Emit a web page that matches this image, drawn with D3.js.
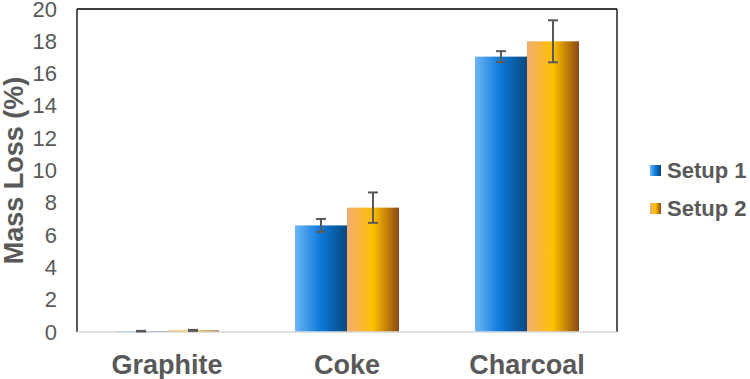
<!DOCTYPE html>
<html>
<head>
<meta charset="utf-8">
<script src="https://cdn.jsdelivr.net/npm/d3@7"></script>
<style>
body { margin: 0; background: #fff; }
svg { font-family: Arial, "Liberation Sans", sans-serif; }
</style>
</head>
<body>
<script>
var categories = ["Graphite", "Coke", "Charcoal"];
var seriesNames = ["Setup 1", "Setup 2"];
var setup1 = [0.05, 6.6, 17.05];
var setup2 = [0.1, 7.7, 18.0];
var err1 = [0.02, 0.4, 0.34];
var err2 = [0.03, 0.94, 1.3];
var yTicks = [0, 2, 4, 6, 8, 10, 12, 14, 16, 18, 20];

var width = 750, height = 379;
// note: "top" is reserved on window, so use plot* names
var plotLeft = 77, plotRight = 617, plotTop = 9, plotBottom = 332;

var svg = d3.select("body").append("svg")
	.attr("width", width)
	.attr("height", height);

var defs = svg.append("defs");
var blue = defs.append("linearGradient").attr("id", "gBlue");
blue.append("stop").attr("offset", "0%").attr("stop-color", "#6bb6f6");
blue.append("stop").attr("offset", "50%").attr("stop-color", "#0b78da");
blue.append("stop").attr("offset", "100%").attr("stop-color", "#0a477c");
var orange = defs.append("linearGradient").attr("id", "gOrange");
orange.append("stop").attr("offset", "0%").attr("stop-color", "#f3ad74");
orange.append("stop").attr("offset", "50%").attr("stop-color", "#ffc000");
orange.append("stop").attr("offset", "100%").attr("stop-color", "#8a4812");
var fills = ["url(#gBlue)", "url(#gOrange)"];

var x = d3.scaleBand().domain(categories).range([plotLeft, plotRight]);
var inner = d3.scaleBand().domain(seriesNames).range([0, 104]);
var y = d3.scaleLinear().domain([0, 20]).range([plotBottom, plotTop]);

// plot frame
svg.append("line").attr("x1", plotLeft).attr("x2", plotLeft).attr("y1", plotTop).attr("y2", plotBottom)
	.style("stroke", "#000").style("stroke-width", 1.3);
svg.append("line").attr("x1", plotLeft).attr("x2", plotRight).attr("y1", plotTop).attr("y2", plotTop)
	.style("stroke", "#000").style("stroke-width", 1.3);
svg.append("line").attr("x1", plotRight).attr("x2", plotRight).attr("y1", plotTop).attr("y2", plotBottom)
	.style("stroke", "#000").style("stroke-width", 1.3);

// y tick labels
var yAxis = svg.append("g").attr("transform", "translate(" + plotLeft + ",0)")
	.call(d3.axisLeft(y).tickValues(yTicks).tickSize(0).tickPadding(20));
yAxis.select(".domain").remove();
yAxis.selectAll("text").style("font-size", "22px").style("fill", "#595959")
	.style("font-family", "Arial, 'Liberation Sans', sans-serif");

// bars
var rows = [];
for (var i = 0; i < categories.length; i++) {
	rows.push({cat: categories[i], s: 0, v: setup1[i], e: err1[i]});
	rows.push({cat: categories[i], s: 1, v: setup2[i], e: err2[i]});
}
var offset = (x.bandwidth() - 104) / 2;
svg.selectAll("rect.bar").data(rows).enter().append("rect")
	.attr("class", "bar")
	.attr("x", function(d) { return x(d.cat) + offset + inner(seriesNames[d.s]); })
	.attr("width", inner.bandwidth())
	.attr("y", function(d) { return y(d.v); })
	.attr("height", function(d) { return y(0) - y(d.v); })
	.style("fill", function(d) { return fills[d.s]; });

// x baseline
svg.append("line").attr("x1", plotLeft).attr("x2", plotRight).attr("y1", plotBottom).attr("y2", plotBottom)
	.style("stroke", "#d9d9d9").style("stroke-width", 1.5);

// error bars
var eb = svg.selectAll("g.err").data(rows).enter().append("g").attr("class", "err")
	.style("stroke", "#595959").style("stroke-width", 2);
function cx(d) { return x(d.cat) + offset + inner(seriesNames[d.s]) + inner.bandwidth() / 2; }
eb.append("line")
	.attr("x1", cx).attr("x2", cx)
	.attr("y1", function(d) { return y(d.v + d.e); })
	.attr("y2", function(d) { return y(d.v - d.e); });
eb.append("line")
	.attr("x1", function(d) { return cx(d) - 5; }).attr("x2", function(d) { return cx(d) + 5; })
	.attr("y1", function(d) { return y(d.v + d.e); })
	.attr("y2", function(d) { return y(d.v + d.e); });
eb.append("line")
	.attr("x1", function(d) { return cx(d) - 5; }).attr("x2", function(d) { return cx(d) + 5; })
	.attr("y1", function(d) { return y(d.v - d.e); })
	.attr("y2", function(d) { return y(d.v - d.e); });

// x labels
svg.selectAll("text.cat").data(categories).enter().append("text")
	.attr("class", "cat")
	.attr("x", function(d) { return x(d) + x.bandwidth() / 2; })
	.attr("y", 374)
	.attr("text-anchor", "middle")
	.style("font-size", "27px").style("font-weight", "bold").style("fill", "#595959")
	.text(function(d) { return d; });

// y title
svg.append("text")
	.attr("transform", "translate(23," + ((plotTop + plotBottom) / 2) + ") rotate(-90)")
	.attr("text-anchor", "middle")
	.style("font-size", "27px").style("font-weight", "bold").style("fill", "#595959")
	.text("Mass Loss (%)");

// legend
var leg = svg.selectAll("g.leg").data(seriesNames).enter().append("g")
	.attr("class", "leg")
	.attr("transform", function(d, i) { return "translate(650," + (165 + i * 38) + ")"; });
leg.append("rect").attr("width", 11).attr("height", 11)
	.style("fill", function(d, i) { return fills[i]; });
leg.append("text").attr("x", 17).attr("y", 13)
	.style("font-size", "22px").style("font-weight", "bold").style("fill", "#595959")
	.text(function(d) { return d; });
</script>
</body>
</html>
